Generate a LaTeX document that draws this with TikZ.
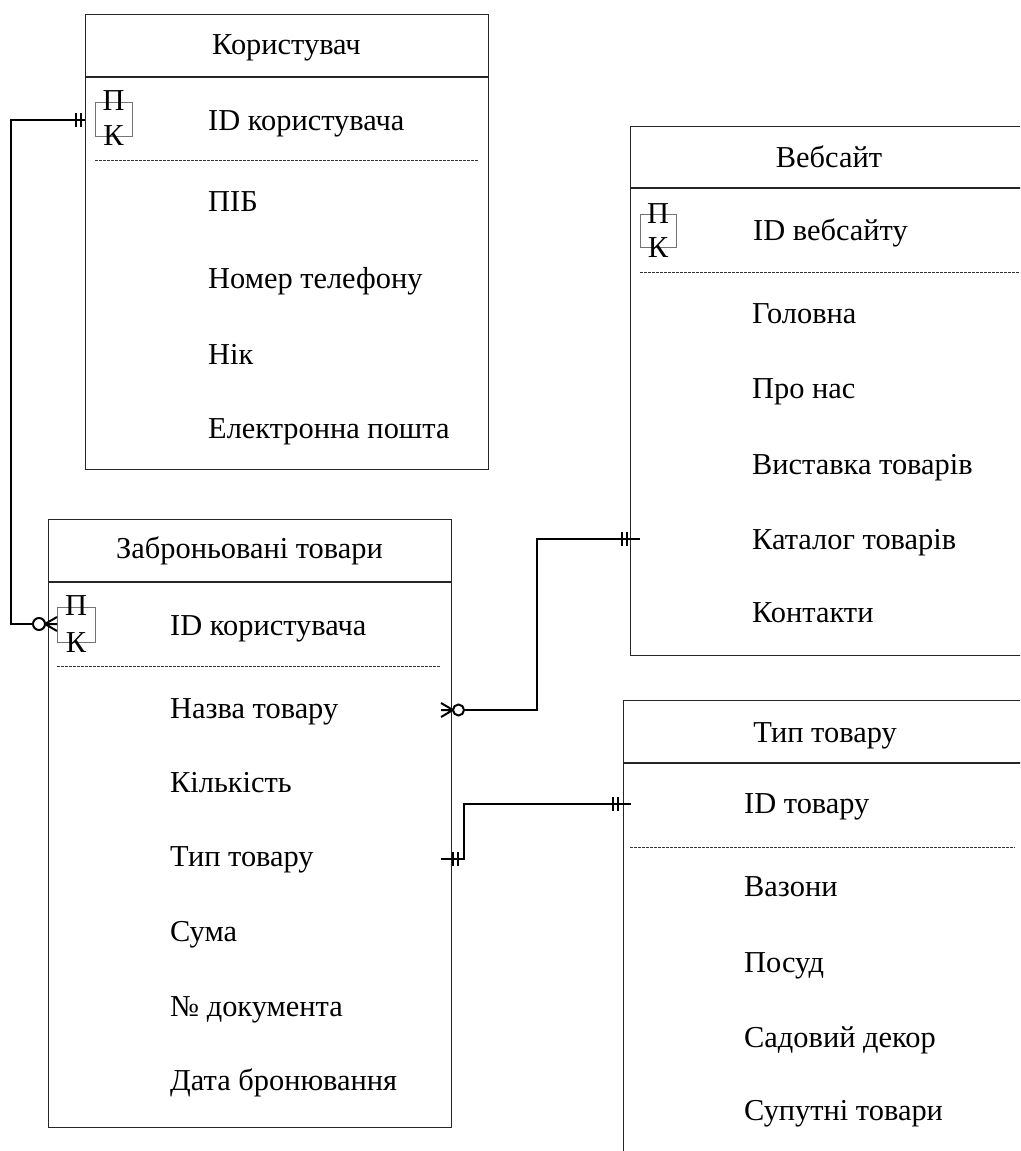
\documentclass[tikz,border=0pt]{standalone}
\usepackage{fontspec}
\setmainfont{Liberation Serif}
\newfontfamily\erfont{Liberation Serif}
\begin{document}
\begin{tikzpicture}[x=1pt,y=-1pt,
  txt/.style={font=\erfont\fontsize{30.4}{35}\selectfont, inner sep=0pt, anchor=base west},
  hdr/.style={font=\erfont\fontsize{30.4}{35}\selectfont, inner sep=0pt, anchor=base},
  ent/.style={draw=black!85, line width=1.1pt, inner sep=0pt, anchor=north west},
  hline/.style={draw=black!85, line width=1.1pt},
  sep/.style={draw=black!80, line width=0.8pt, dash pattern=on 2.5pt off 1.5pt},
  pkbox/.style={draw=black!55, line width=0.9pt, minimum width=37pt, minimum height=34pt, inner sep=0pt, anchor=north west},
  conn/.style={line width=2pt, black},
  ]
\useasboundingbox (0,0) rectangle (1020,1151);
\fill[white] (0,0) rectangle (1020,1151);
\clip (0,0) rectangle (1020,1151);

% ---------- Користувач ----------
\node[ent, minimum width=403pt, minimum height=455pt] (user) at (85,14) {};
\draw[hline] (85,77) -- (488,77);
\node[hdr] (userh) at (286.5,54) {Користувач};
\node[pkbox] (userpk) at (95,102) {};
\node[hdr] (userpkP) at (113.5,110) {П};
\node[hdr] (userpkK) at (113.5,145) {К};
\node[txt] (uid) at (208,130) {ID користувача};
\draw[sep] (95,160) -- (478,160);
\node[txt] (u1) at (208,211) {ПІБ};
\node[txt] (u2) at (208,288) {Номер телефону};
\node[txt] (u3) at (208,364) {Нік};
\node[txt] (u4) at (208,438) {Електронна пошта};

% ---------- Заброньовані товари ----------
\node[ent, minimum width=403pt, minimum height=608pt] (book) at (48,519) {};
\draw[hline] (48,582) -- (451,582);
\node[hdr] (bookh) at (249.5,558) {Заброньовані товари};
\node[pkbox, minimum width=38pt, minimum height=35pt] (bookpk) at (57,607) {};
\node[hdr] (bookpkP) at (76,615) {П};
\node[hdr] (bookpkK) at (76,652) {К};
\node[txt] (bid) at (170,635) {ID користувача};
\draw[sep] (57,666) -- (441,666);
\node[txt] (b1) at (170,718) {Назва товару};
\node[txt] (b2) at (170,792) {Кількість};
\node[txt] (b3) at (170,866) {Тип товару};
\node[txt] (b4) at (170,941) {Сума};
\node[txt] (b5) at (170,1016) {№ документа};
\node[txt] (b6) at (170,1090) {Дата бронювання};

% ---------- Вебсайт ----------
\node[ent, minimum width=410pt, minimum height=529pt] (web) at (630,126) {};
\draw[hline] (630,188) -- (1040,188);
\node[hdr] (webh) at (829,167) {Вебсайт};
\node[pkbox, minimum width=36pt, minimum height=33pt] (webpk) at (640,214) {};
\node[hdr] (webpkP) at (658,223) {П};
\node[hdr] (webpkK) at (658,257) {К};
\node[txt] (wid) at (753,240) {ID вебсайту};
\draw[sep] (640,272) -- (1030,272);
\node[txt] (w1) at (752,323) {Головна};
\node[txt] (w2) at (752,398) {Про нас};
\node[txt] (w3) at (752,474) {Виставка товарів};
\node[txt] (w4) at (752,549) {Каталог товарів};
\node[txt] (w5) at (752,622) {Контакти};

% ---------- Тип товару ----------
\node[ent, minimum width=403pt, minimum height=500pt] (type) at (623,700) {};
\draw[hline] (623,763) -- (1026,763);
\node[hdr] (typeh) at (825,742) {Тип товару};
\node[txt] (tid) at (744,813) {ID товару};
\draw[sep] (630,847) -- (1015,847);
\node[txt] (t1) at (744,896) {Вазони};
\node[txt] (t2) at (744,972) {Посуд};
\node[txt] (t3) at (744,1047) {Садовий декор};
\node[txt] (t4) at (744,1120) {Супутні товари};

% ---------- connection points ----------
\coordinate (c-uid) at (85,120);
\coordinate (c-bid) at (33,624);
\coordinate (c-bname) at (464,710);
\coordinate (c-wcat) at (640,539);
\coordinate (c-btype) at (441,859);
\coordinate (c-tid) at (631,804);

% Користувач -- Заброньовані товари
\draw[conn] (c-uid) -- (11,120) -- (11,624) -- (c-bid);
\draw[conn] (76,113) -- (76,127) (81,113) -- (81,127);
\draw[conn] (39,624) circle (6);
\draw[conn] (45,624) -- (57,617) (45,624) -- (57,624) (45,624) -- (57,631);

% Заброньовані товари -- Вебсайт
\draw[conn] (c-bname) -- (537,710) -- (537,539) -- (c-wcat);
\draw[conn] (458.5,710) circle (5.5);
\draw[conn] (441,703) -- (453,710) (441,710) -- (453,710) (441,717) -- (453,710);
\draw[conn] (622,532) -- (622,546) (627,532) -- (627,546);

% Заброньовані товари -- Тип товару
\draw[conn] (c-btype) -- (464,859) -- (464,804) -- (c-tid);
\draw[conn] (453,852) -- (453,866) (458,852) -- (458,866);
\draw[conn] (613,797) -- (613,811) (618,797) -- (618,811);
\end{tikzpicture}
\end{document}
